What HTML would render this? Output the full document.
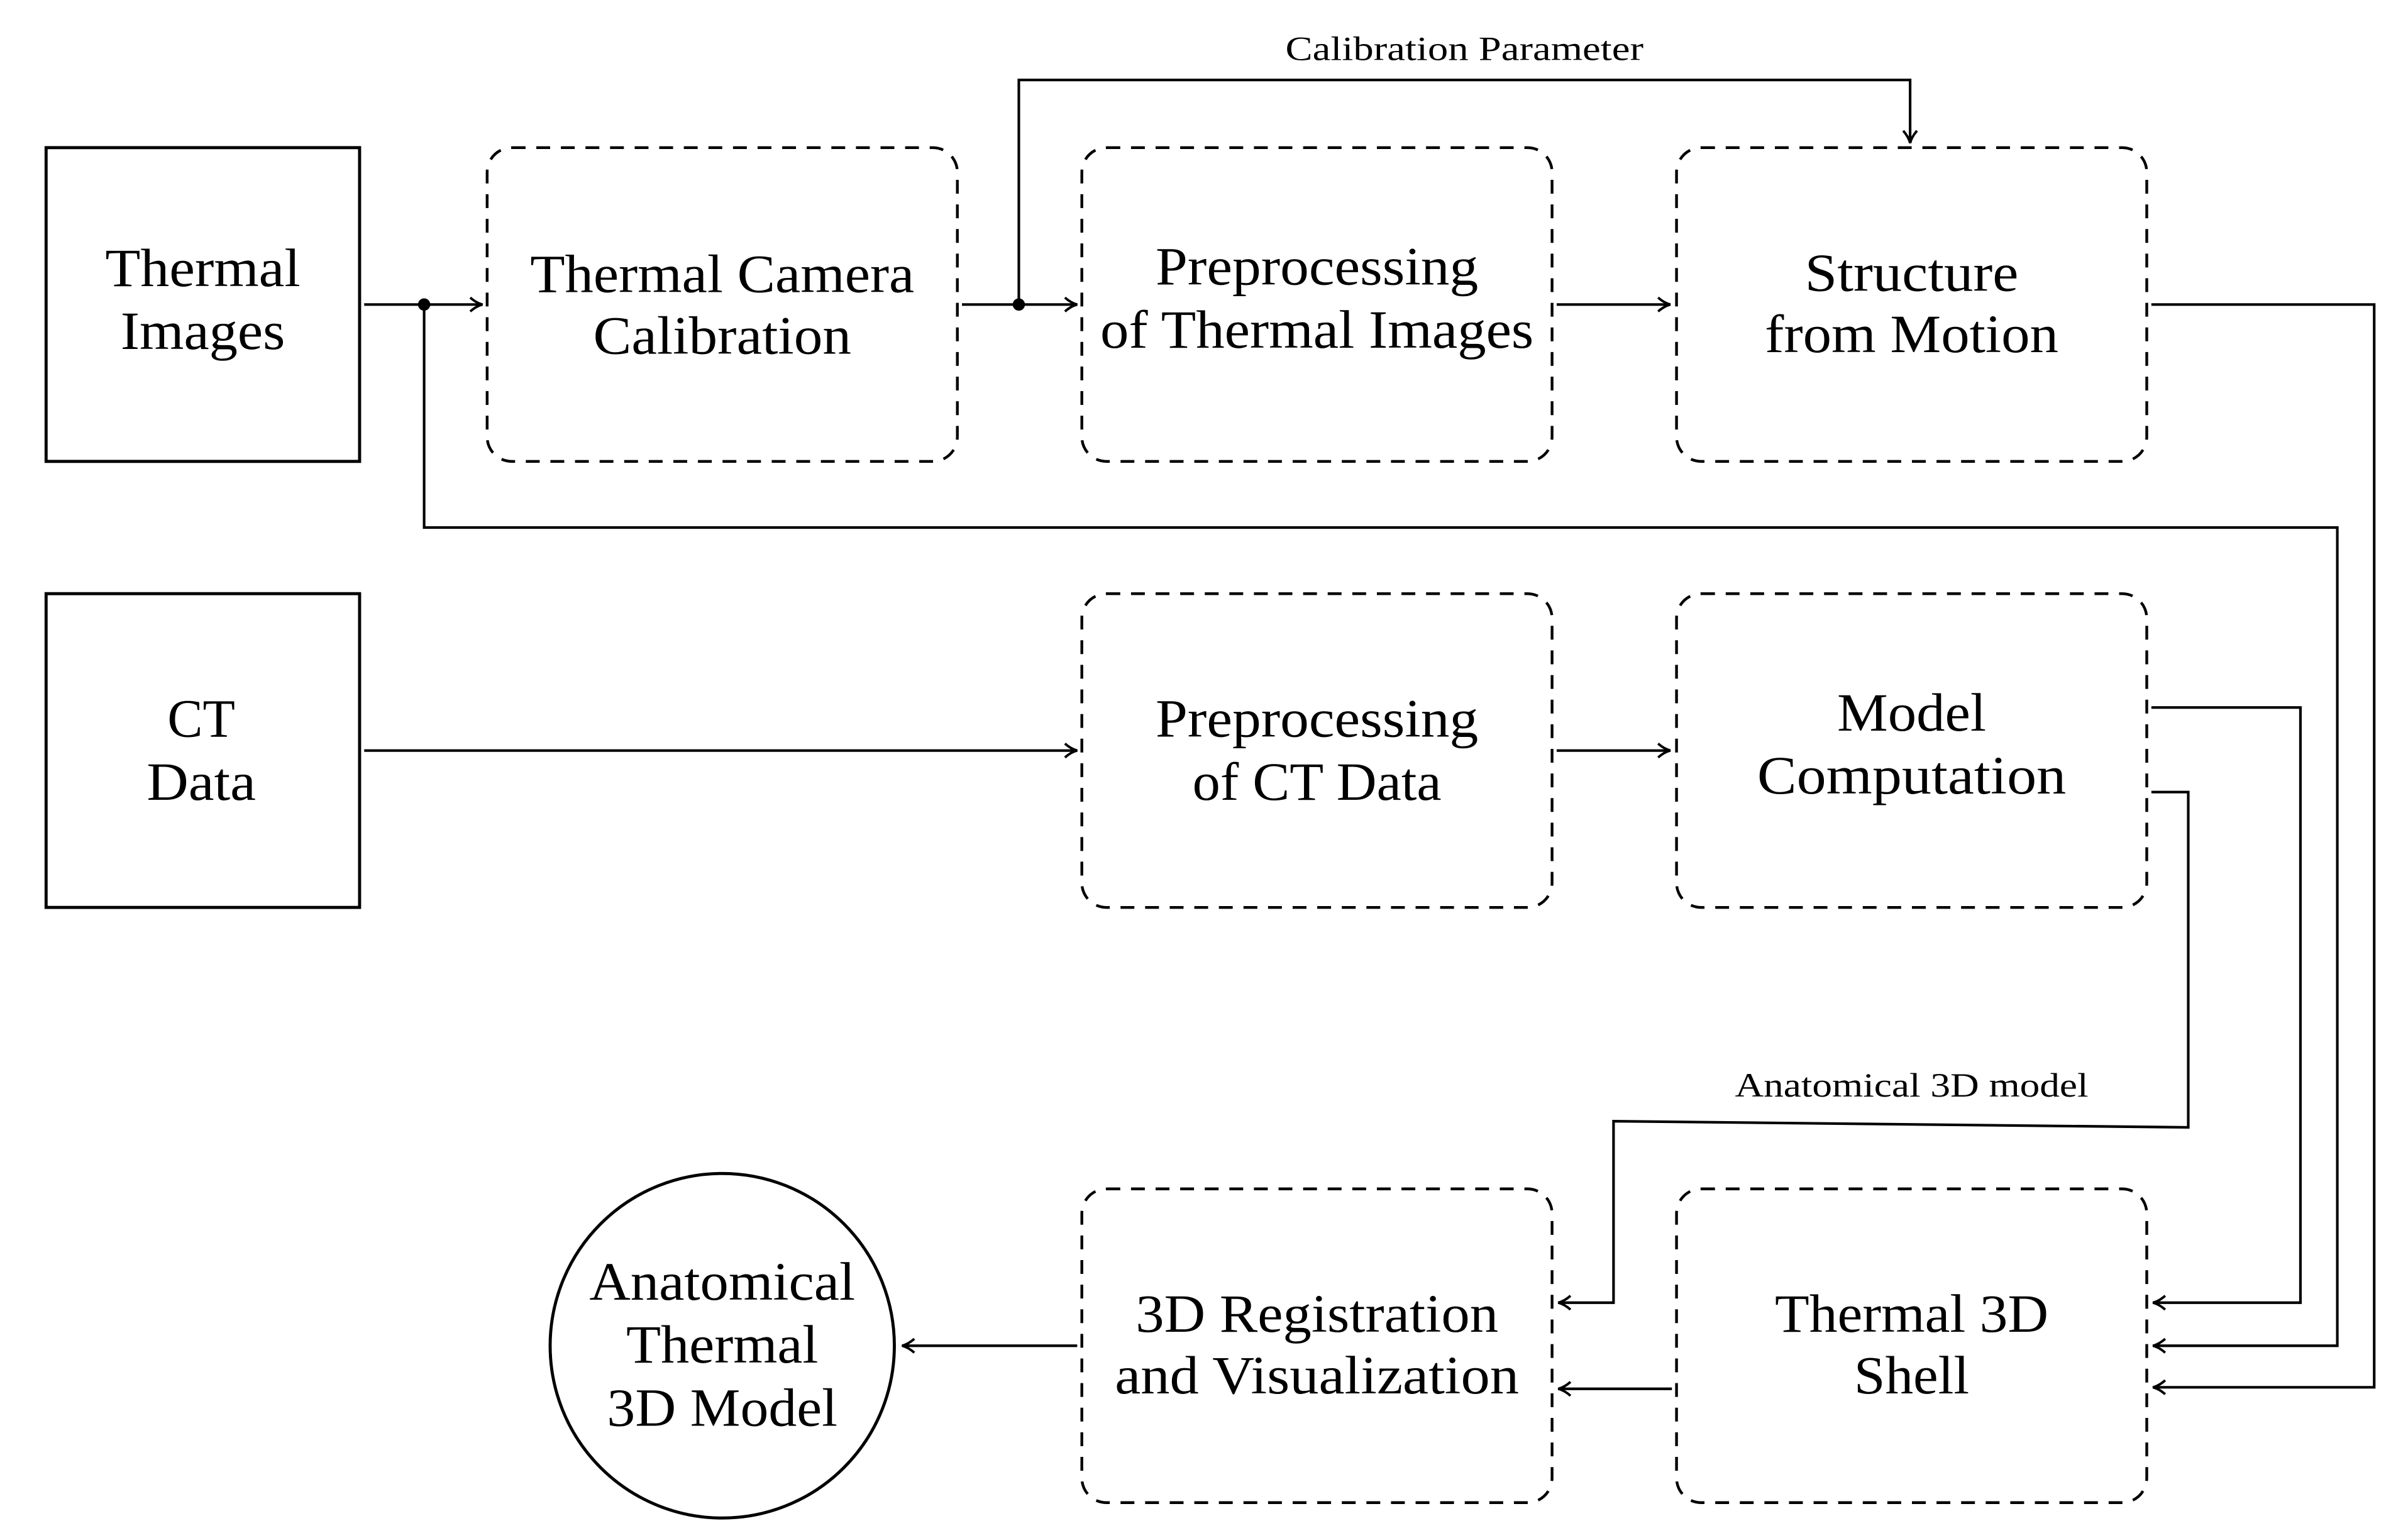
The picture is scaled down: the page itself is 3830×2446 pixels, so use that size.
<!DOCTYPE html>
<html><head><meta charset="utf-8"><style>
html,body{margin:0;padding:0;background:#fff;}
svg{display:block;}
text{font-family:"Liberation Serif",serif;fill:#000;}
</style></head><body>
<svg width="3830" height="2446" viewBox="0 0 1567 1000" preserveAspectRatio="none" xmlns="http://www.w3.org/2000/svg">
<defs>
<marker id="a" markerWidth="12" markerHeight="12" refX="9" refY="6" orient="auto" markerUnits="userSpaceOnUse">
<path d="M1,1.5 Q5,5 9,6 Q5,7 1,10.5" fill="none" stroke="#000" stroke-width="1.6"/>
</marker>
</defs>
<g fill="none" stroke="#000">
<rect x="30" y="96" width="204" height="204" stroke-width="2"/>
<rect x="30" y="386" width="204" height="204" stroke-width="2"/>
<g stroke-width="1.8" stroke-dasharray="9,7">
<rect x="317" y="96" width="306" height="204" rx="16"/>
<rect x="704" y="96" width="306" height="204" rx="16"/>
<rect x="1091" y="96" width="306" height="204" rx="16"/>
<rect x="704" y="386" width="306" height="204" rx="16"/>
<rect x="1091" y="386" width="306" height="204" rx="16"/>
<rect x="704" y="773" width="306" height="204" rx="16"/>
<rect x="1091" y="773" width="306" height="204" rx="16"/>
</g>
<circle cx="470" cy="875" r="112" stroke-width="2"/>
<g stroke-width="1.7">
<path d="M237,198 H314" marker-end="url(#a)"/>
<path d="M276,198 V343 H1521 V875 H1401" marker-end="url(#a)"/>
<path d="M626,198 H701" marker-end="url(#a)"/>
<path d="M663,198 V52 H1243 V93" marker-end="url(#a)"/>
<path d="M1013,198 H1087" marker-end="url(#a)"/>
<path d="M1400,198 H1545 V902 H1401" marker-end="url(#a)"/>
<path d="M237,488 H701" marker-end="url(#a)"/>
<path d="M1013,488 H1087" marker-end="url(#a)"/>
<path d="M1400,460 H1497 V847 H1401" marker-end="url(#a)"/>
<path d="M1400,515 H1424 V733 L1050,729 V847 H1014" marker-end="url(#a)"/>
<path d="M1088,903 H1014" marker-end="url(#a)"/>
<path d="M701,875 H587" marker-end="url(#a)"/>
</g>
</g>
<circle cx="276" cy="198" r="4"/>
<circle cx="663" cy="198" r="4"/>
<g font-size="35" text-anchor="middle" lengthAdjust="spacingAndGlyphs">
<text x="132" y="186" textLength="127" lengthAdjust="spacingAndGlyphs">Thermal</text><text x="132" y="227" textLength="107" lengthAdjust="spacingAndGlyphs">Images</text>
<text x="131" y="479" textLength="44" lengthAdjust="spacingAndGlyphs">CT</text><text x="131" y="520" textLength="71" lengthAdjust="spacingAndGlyphs">Data</text>
<text x="470" y="190" textLength="250" lengthAdjust="spacingAndGlyphs">Thermal Camera</text><text x="470" y="230" textLength="168" lengthAdjust="spacingAndGlyphs">Calibration</text>
<text x="857" y="185" textLength="210" lengthAdjust="spacingAndGlyphs">Preprocessing</text><text x="857" y="226" textLength="282" lengthAdjust="spacingAndGlyphs">of Thermal Images</text>
<text x="1244" y="189" textLength="139" lengthAdjust="spacingAndGlyphs">Structure</text><text x="1244" y="229" textLength="191" lengthAdjust="spacingAndGlyphs">from Motion</text>
<text x="857" y="479" textLength="210" lengthAdjust="spacingAndGlyphs">Preprocessing</text><text x="857" y="520" textLength="162" lengthAdjust="spacingAndGlyphs">of CT Data</text>
<text x="1244" y="475" textLength="97" lengthAdjust="spacingAndGlyphs">Model</text><text x="1244" y="516" textLength="201" lengthAdjust="spacingAndGlyphs">Computation</text>
<text x="857" y="866" textLength="236" lengthAdjust="spacingAndGlyphs">3D Registration</text><text x="857" y="906" textLength="263" lengthAdjust="spacingAndGlyphs">and Visualization</text>
<text x="1244" y="866" textLength="178" lengthAdjust="spacingAndGlyphs">Thermal 3D</text><text x="1244" y="906" textLength="75" lengthAdjust="spacingAndGlyphs">Shell</text>
<text x="470" y="845" textLength="173" lengthAdjust="spacingAndGlyphs">Anatomical</text><text x="470" y="886" textLength="125" lengthAdjust="spacingAndGlyphs">Thermal</text><text x="470" y="927" textLength="150" lengthAdjust="spacingAndGlyphs">3D Model</text>
</g>
<g font-size="22" text-anchor="middle">
<text x="953" y="39" textLength="233" lengthAdjust="spacingAndGlyphs">Calibration Parameter</text>
<text x="1244" y="713" textLength="230" lengthAdjust="spacingAndGlyphs">Anatomical 3D model</text>
</g>
</svg>
</body></html>
